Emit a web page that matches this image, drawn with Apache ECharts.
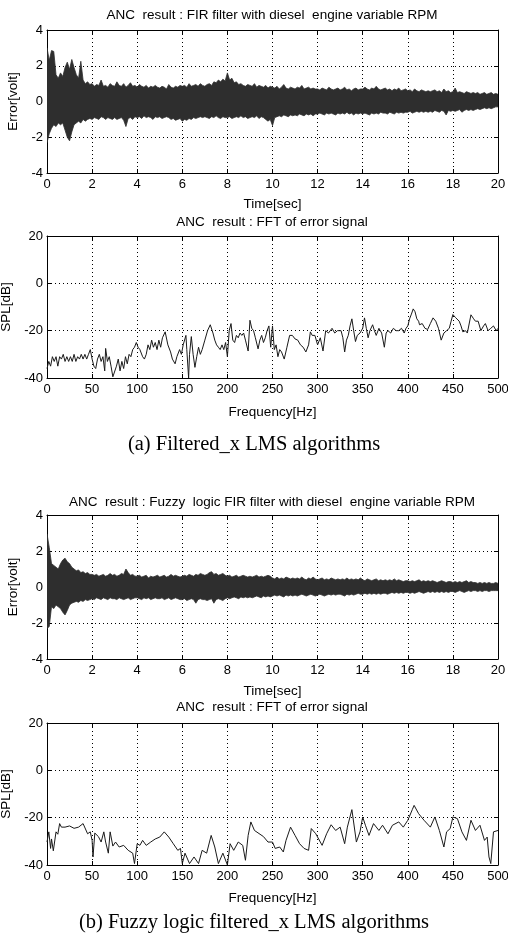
<!DOCTYPE html>
<html>
<head>
<meta charset="utf-8">
<script src="https://cdn.jsdelivr.net/npm/echarts@6/dist/echarts.min.js"></script>
<style>html,body{margin:0;padding:0;background:#fff}#c{width:508px;height:937px}</style>
</head>
<body>
<div id="c"></div>
<script>
// ---- Data ----
// Time-domain error signal envelopes (every 0.1 s from 0 to 20 s)
const timeStep = 0.1;
const firUpper = [
3.0,2.3,2.85,2.8,1.5,1.3,1.6,1.4,1.9,2.2,
1.8,2.35,1.9,1.5,1.3,2.25,1.2,1.0,1.1,0.95,
1.0,0.85,0.95,0.9,1.2,0.85,0.9,0.8,1.0,0.9,
0.85,1.1,0.9,0.85,1.0,0.8,0.9,1.05,0.85,0.9,
0.8,0.95,0.85,0.8,0.9,0.75,0.85,0.8,0.9,0.8,
0.75,0.85,0.8,0.7,0.95,0.8,0.75,0.85,0.8,0.9,
0.85,0.9,0.8,1.0,0.85,0.9,0.95,0.85,1.0,0.9,
0.85,0.95,1.0,0.9,1.1,1.05,1.2,1.1,1.25,1.15,
1.6,1.2,1.3,1.05,1.1,0.95,1.0,0.9,0.85,0.95,
0.9,0.85,1.0,0.8,0.9,0.85,0.8,0.9,0.75,0.85,
0.8,0.75,0.85,0.7,0.8,0.95,0.75,0.7,0.8,0.75,
0.7,0.8,0.75,0.9,0.7,0.75,0.8,0.7,0.75,0.7,
0.7,0.65,0.75,0.7,0.65,0.8,0.7,0.65,0.7,0.75,
0.65,0.7,0.8,0.65,0.7,0.6,0.7,0.75,0.65,0.7,
0.7,0.8,0.7,0.65,0.75,0.7,0.85,0.7,0.65,0.7,
0.75,0.65,0.7,0.6,0.7,0.65,0.75,0.6,0.65,0.7,
0.6,0.65,0.55,0.7,0.6,0.55,0.65,0.6,0.55,0.6,
0.55,0.6,0.65,0.55,0.6,0.5,0.7,0.55,0.6,0.5,
0.55,0.75,0.5,0.55,0.5,0.45,0.55,0.5,0.45,0.5,
0.45,0.5,0.4,0.45,0.5,0.4,0.45,0.5,0.4,0.45,0.4];
const firLower = [
-2.3,-1.8,-1.5,-1.3,-1.4,-1.2,-1.3,-1.2,-1.6,-2.0,
-2.2,-1.7,-1.3,-1.2,-1.1,-1.2,-1.0,-1.1,-1.0,-0.95,
-1.0,-0.9,-0.95,-1.0,-0.85,-0.9,-1.0,-0.9,-0.95,-1.0,
-0.9,-1.0,-0.95,-0.9,-1.05,-1.4,-0.95,-0.9,-1.0,-0.85,
-0.9,-0.85,-0.95,-0.8,-0.9,-0.85,-0.9,-1.0,-0.85,-0.9,
-0.85,-0.95,-0.9,-0.85,-0.9,-1.0,-0.95,-1.05,-1.0,-0.95,
-1.1,-1.0,-1.05,-0.95,-1.0,-0.9,-0.95,-0.9,-0.85,-0.9,
-0.85,-0.9,-0.95,-0.85,-0.9,-0.8,-0.9,-0.95,-0.85,-0.9,
-0.9,-0.85,-0.95,-0.9,-0.85,-0.9,-0.8,-0.9,-0.85,-0.95,
-0.9,-0.85,-0.9,-0.8,-0.95,-0.85,-0.9,-1.0,-1.1,-1.0,
-1.35,-0.9,-0.85,-0.8,-0.85,-0.75,-0.8,-0.85,-0.75,-0.8,
-0.75,-0.8,-0.7,-0.75,-0.8,-0.7,-0.75,-0.7,-0.8,-0.7,
-0.7,-0.65,-0.7,-0.75,-0.65,-0.7,-0.65,-0.7,-0.75,-0.65,
-0.7,-0.65,-0.7,-0.6,-0.7,-0.65,-0.75,-0.65,-0.7,-0.65,
-0.7,-0.65,-0.7,-0.75,-0.65,-0.7,-0.65,-0.7,-0.6,-0.65,
-0.65,-0.7,-0.6,-0.65,-0.7,-0.6,-0.65,-0.6,-0.65,-0.6,
-0.6,-0.55,-0.65,-0.6,-0.55,-0.6,-0.55,-0.6,-0.55,-0.6,
-0.55,-0.6,-0.5,-0.55,-0.6,-0.5,-0.55,-0.75,-0.5,-0.55,
-0.5,-0.55,-0.5,-0.45,-0.6,-0.5,-0.45,-0.5,-0.45,-0.5,
-0.45,-0.4,-0.45,-0.4,-0.35,-0.4,-0.35,-0.4,-0.35,-0.3,-0.3];
const fuzzyUpper = [
2.95,2.2,1.3,1.2,1.1,1.0,1.3,1.5,1.6,1.4,
1.3,1.1,1.0,0.9,0.95,0.8,0.85,0.75,0.8,0.7,
0.7,0.65,0.7,0.6,0.65,0.7,0.6,0.65,0.75,0.65,
0.7,0.6,0.65,0.75,0.7,1.0,0.8,0.65,0.7,0.6,
0.6,0.65,0.55,0.6,0.65,0.5,0.6,0.55,0.6,0.65,
0.55,0.6,0.65,0.55,0.6,0.7,0.6,0.65,0.6,0.55,
0.6,0.65,0.6,0.7,0.65,0.6,0.7,0.65,0.75,0.7,
0.65,0.7,0.8,0.85,0.7,0.75,0.65,0.7,0.75,0.65,
0.6,0.65,0.55,0.6,0.65,0.55,0.6,0.65,0.6,0.55,
0.6,0.55,0.6,0.65,0.55,0.6,0.55,0.6,0.65,0.6,
0.5,0.45,0.55,0.45,0.5,0.45,0.55,0.5,0.45,0.5,
0.45,0.5,0.45,0.55,0.45,0.4,0.5,0.45,0.55,0.45,
0.4,0.45,0.5,0.4,0.45,0.4,0.5,0.45,0.4,0.45,
0.4,0.45,0.4,0.5,0.4,0.45,0.4,0.45,0.4,0.5,
0.4,0.35,0.45,0.4,0.35,0.4,0.45,0.35,0.4,0.35,
0.4,0.35,0.4,0.35,0.45,0.35,0.4,0.35,0.3,0.35,
0.35,0.3,0.35,0.3,0.35,0.4,0.3,0.35,0.3,0.35,
0.3,0.35,0.3,0.25,0.3,0.35,0.3,0.25,0.3,0.3,
0.25,0.3,0.25,0.3,0.25,0.3,0.35,0.25,0.3,0.25,
0.25,0.2,0.25,0.2,0.25,0.2,0.25,0.2,0.2,0.25,0.2];
const fuzzyLower = [
-2.3,-2.2,-1.1,-1.2,-1.0,-1.1,-1.2,-1.4,-1.55,-1.3,
-1.0,-0.9,-0.85,-0.8,-0.85,-0.75,-0.8,-0.7,-0.75,-0.7,
-0.65,-0.7,-0.6,-0.65,-0.7,-0.6,-0.65,-0.7,-0.6,-0.65,
-0.65,-0.7,-0.6,-0.65,-0.7,-0.65,-0.6,-0.7,-0.65,-0.6,
-0.6,-0.65,-0.7,-0.6,-0.65,-0.6,-0.7,-0.65,-0.6,-0.65,
-0.65,-0.6,-0.7,-0.65,-0.6,-0.7,-0.65,-0.6,-0.65,-0.7,
-0.7,-0.65,-0.75,-0.7,-0.65,-0.7,-0.9,-0.7,-0.65,-0.7,
-0.7,-0.75,-0.7,-0.65,-0.9,-0.7,-0.65,-0.7,-0.75,-0.65,
-0.6,-0.65,-0.6,-0.55,-0.6,-0.65,-0.55,-0.6,-0.55,-0.6,
-0.55,-0.6,-0.55,-0.5,-0.55,-0.6,-0.5,-0.55,-0.5,-0.55,
-0.5,-0.45,-0.5,-0.45,-0.5,-0.55,-0.45,-0.5,-0.45,-0.5,
-0.45,-0.5,-0.45,-0.4,-0.45,-0.5,-0.45,-0.4,-0.45,-0.5,
-0.45,-0.4,-0.45,-0.5,-0.45,-0.4,-0.45,-0.4,-0.45,-0.4,
-0.4,-0.45,-0.5,-0.4,-0.45,-0.4,-0.45,-0.4,-0.35,-0.4,
-0.4,-0.35,-0.4,-0.35,-0.4,-0.35,-0.4,-0.35,-0.4,-0.35,
-0.35,-0.4,-0.35,-0.3,-0.35,-0.3,-0.35,-0.3,-0.35,-0.3,
-0.3,-0.35,-0.3,-0.35,-0.3,-0.25,-0.3,-0.35,-0.3,-0.25,
-0.3,-0.25,-0.3,-0.25,-0.3,-0.25,-0.3,-0.25,-0.3,-0.25,
-0.25,-0.3,-0.25,-0.2,-0.25,-0.3,-0.25,-0.2,-0.25,-0.2,
-0.2,-0.25,-0.2,-0.25,-0.2,-0.2,-0.25,-0.2,-0.2,-0.2,-0.2];

// FFT of error signal: frequency [Hz] and SPL [dB]
const firFreq = [0,2,4,6,8,10,12,14,16,18,20,22,24,26,28,30,32,34,36,38,40,42,44,46,48,50,52,54,56,58,60,62,64,65,67,69,71,73,75,77,79,81,83,85,87,89,91,93,95,97,99,101,103,106,108,110,112,114,116,118,120,122,124,126,128,131,134,137,139,142,144,147,149,151,154,155,157,158,160,162,164,166,168,170,172,175,178,181,184,186,188,190,192,194,196,198,200,202,204,206,208,210,212,214,216,218,220,223,225,227,229,231,234,236,238,240,242,244,246,248,250,252,254,256,258,260,263,266,269,272,275,278,281,284,287,290,292,294,297,300,303,306,309,312,316,319,322,326,328,330,332,334,336,338,340,342,344,347,350,352,354,356,358,361,363,365,368,371,374,376,378,381,384,387,390,393,396,398,400,402,404,406,408,410,412,413,416,419,422,425,428,431,434,437,440,443,446,448,450,453,455,457,459,461,464,466,468,470,473,475,478,481,484,486,489,492,495,498,500];
const firSpl = [-36,-33,-35,-31,-33,-31,-35,-31,-32,-30,-33,-31,-33,-31,-33,-30,-33,-31,-32,-30,-32,-30,-32,-30,-28,-32,-35,-36,-32,-30,-33,-31,-37,-27.5,-33,-31,-35,-39.5,-40,-35,-32,-37,-33,-36,-31,-34,-30,-31,-28,-27,-25,-27,-28,-31,-32,-30,-26,-28,-24,-27,-25,-28,-24,-27,-23,-20.5,-26,-29,-32,-34,-31,-28,-30,-26,-22,-28,-40,-30,-22.5,-30,-35.5,-31,-27,-30,-28,-24,-20,-17.5,-21,-24,-26,-27,-28,-26,-28,-25,-31,-20,-17,-24,-25,-22,-23,-21,-22,-21,-24,-28.6,-15.6,-19,-20,-23,-27.7,-24,-22,-25,-23,-20,-18,-27,-18,-28,-26,-31,-28,-29,-32,-27,-22,-22,-23.5,-24,-26,-27,-29,-26,-20.5,-22,-22,-26,-23,-28.6,-20,-21,-19,-21,-20,-20,-23,-29,-24,-22,-18,-15,-20,-24.6,-22,-21,-19,-14.6,-19,-23,-20,-17.5,-20,-22,-19,-21,-27,-21,-20,-21,-19,-20,-20,-19,-21,-19,-18,-15,-13,-10.8,-12,-15,-16,-17.5,-17,-19,-19.5,-17,-14.6,-16,-19,-24,-21,-20,-19,-16,-13.2,-14.5,-14,-16,-18,-20.5,-20,-21,-21,-13.3,-15,-16,-16,-20,-18,-17,-20,-19,-18,-20,-19];
const fuzzyFreq = [0,2,4,5,7,10,12,14,16,20,25,30,35,40,45,48,50,51,53,57,60,63,65,68,70,73,76,80,85,90,95,97,100,103,106,110,115,120,125,130,135,140,145,148,150,153,158,163,168,172,177,182,186,190,195,200,203,207,212,217,220,223,226,230,240,245,250,253,258,262,265,270,275,280,285,290,293,298,303,305,310,315,320,325,330,333,338,343,347,350,353,357,362,368,372,378,383,390,395,400,405,407,412,418,425,430,435,440,443,447,450,455,460,465,470,475,480,485,488,490,492,495,500];
const fuzzySpl = [-30.3,-26,-33,-29,-34,-26,-27,-22.5,-24,-24,-23.5,-24.5,-24,-22.5,-26.8,-26,-29.6,-36.6,-26.5,-28,-30.3,-26,-30.3,-35,-26,-32,-30.3,-32.4,-31.7,-33.8,-35,-39.4,-31,-31.7,-29.6,-31.7,-30.3,-29,-28.2,-26,-28.2,-31,-33.8,-33,-39.4,-35,-39.4,-36.6,-39.4,-33.8,-35,-27.5,-32.4,-39.4,-35,-40,-31,-33.8,-30.3,-31.7,-38,-27.5,-21.8,-25.4,-28,-30.3,-30.3,-33,-32.4,-34.5,-29.6,-24,-27.5,-31,-33,-33.8,-24.6,-26.8,-30.3,-31.7,-26.8,-23,-25.4,-24,-31,-24,-16.6,-30.3,-26,-19.7,-23.2,-27.5,-22.5,-25.4,-23.2,-26.8,-23.2,-21.8,-24,-21.1,-16.6,-14.8,-18.3,-21.1,-24,-19.7,-25.4,-32.4,-26,-24.6,-19.7,-20.4,-26,-29.6,-21.1,-25.4,-23.2,-29.6,-28.2,-36.6,-39.4,-26,-25.4];

// Texts
const titles = [
  'ANC  result : FIR filter with diesel  engine variable RPM',
  'ANC  result : FFT of error signal',
  'ANC  result : Fuzzy  logic FIR filter with diesel  engine variable RPM',
  'ANC  result : FFT of error signal'
];
const captions = ['(a) Filtered_x LMS algorithms', '(b) Fuzzy logic filtered_x LMS algorithms'];

// ---- Build chart ----
function pairs(xs, ys) { return xs.map((x, i) => [x, ys[i]]); }

const FONT = 'Liberation Sans, Arial, Helvetica, sans-serif';
const grids = [
  {left: 47, top: 30, width: 451, height: 143},
  {left: 47, top: 236, width: 451, height: 142},
  {left: 47, top: 515, width: 451, height: 144},
  {left: 47, top: 723, width: 451, height: 142}
].map(g => Object.assign({show: false, containLabel: false, outerBoundsMode: 'none'}, g));

const kinds = ['time', 'freq', 'time', 'freq'];
const xNameGap = [24, 27, 25, 26];
const xAxes = [], yAxes = [];
kinds.forEach((k, gi) => {
  const isT = k === 'time';
  const common = {
    gridIndex: gi, type: 'value',
    axisLine: {show: true, onZero: false, lineStyle: {color: '#000', width: 1}},
    axisTick: {show: true, inside: true, length: 4, lineStyle: {color: '#000'}},
  };
  xAxes.push(Object.assign({}, common, {
    position: 'bottom',
    min: 0, max: isT ? 20 : 500, interval: isT ? 2 : 50,
    name: isT ? 'Time[sec]' : 'Frequency[Hz]', nameLocation: 'middle', nameGap: xNameGap[gi],
    nameTextStyle: {color: '#000', fontSize: 13.5, fontFamily: FONT},
    axisLabel: {color: '#000', fontSize: 13, fontFamily: FONT, margin: 5},
    splitLine: {show: true, lineStyle: {color: '#000', type: [1, 3], width: 1}}
  }));
  xAxes.push(Object.assign({}, common, {
    position: 'top',
    min: 0, max: isT ? 20 : 500, interval: isT ? 2 : 50,
    axisLabel: {show: false}, splitLine: {show: false}
  }));
  yAxes.push(Object.assign({}, common, {
    position: 'left',
    min: isT ? -4 : -40, max: isT ? 4 : 20, interval: isT ? 2 : 20,
    name: isT ? 'Error[volt]' : 'SPL[dB]', nameLocation: 'middle', nameGap: isT ? 18 : 33,
    nameTextStyle: {color: '#000', fontSize: 13.5, fontFamily: FONT},
    axisLabel: {color: '#000', fontSize: 13, fontFamily: FONT, margin: 4},
    splitLine: {show: true, lineStyle: {color: '#000', type: [1, 3], width: 1}}
  }));
  yAxes.push(Object.assign({}, common, {
    position: 'right',
    min: isT ? -4 : -40, max: isT ? 4 : 20, interval: isT ? 2 : 20,
    axisLabel: {show: false}, splitLine: {show: false}
  }));
});

const series = [];
const BAND = '#2e2e2e';
function band(gi, up, lo) {
  const data = up.map((v, i) => [i * timeStep, v, lo[i]]);
  series.push({
    type: 'custom', xAxisIndex: gi * 2, yAxisIndex: gi * 2,
    data: data, encode: {x: 0, y: [1, 2]}, silent: true, clip: true, z: 3,
    renderItem: function (params, api) {
      if (params.dataIndex !== 0) return null;
      const pts = [];
      for (let i = 0; i < data.length; i++) pts.push(api.coord([data[i][0], data[i][1]]));
      for (let i = data.length - 1; i >= 0; i--) pts.push(api.coord([data[i][0], data[i][2]]));
      return {
        type: 'polygon', shape: {points: pts},
        style: {fill: BAND, stroke: BAND, lineWidth: 0.8}
      };
    }
  });
}
function fft(gi, xs, ys) {
  series.push({
    type: 'line', xAxisIndex: gi * 2, yAxisIndex: gi * 2, data: pairs(xs, ys),
    showSymbol: false, symbol: 'none', silent: true,
    lineStyle: {color: '#1a1a1a', width: 1}, z: 3
  });
}
band(0, firUpper, firLower);
fft(1, firFreq, firSpl);
band(2, fuzzyUpper, fuzzyLower);
fft(3, fuzzyFreq, fuzzySpl);

const titleTops = [8, 215, 495, 700];
const titleComps = titles.map((t, i) => ({
  text: t, left: 272, top: titleTops[i], textAlign: 'center', padding: 0,
  textStyle: {fontSize: 13.5, fontWeight: 'normal', color: '#000', fontFamily: FONT}
}));
const capTops = [434, 912];
captions.forEach((c, i) => titleComps.push({
  text: c, left: 254, top: capTops[i], textAlign: 'center', padding: 0,
  textStyle: {fontSize: 20.5, fontWeight: 'normal', color: '#000', fontFamily: 'Liberation Serif, Times New Roman, serif'}
}));

const chart = echarts.init(document.getElementById('c'), null, {renderer: 'canvas'});
chart.setOption({
  animation: false,
  backgroundColor: '#fff',
  title: titleComps,
  grid: grids,
  xAxis: xAxes,
  yAxis: yAxes,
  series: series
});
</script>
</body>
</html>
